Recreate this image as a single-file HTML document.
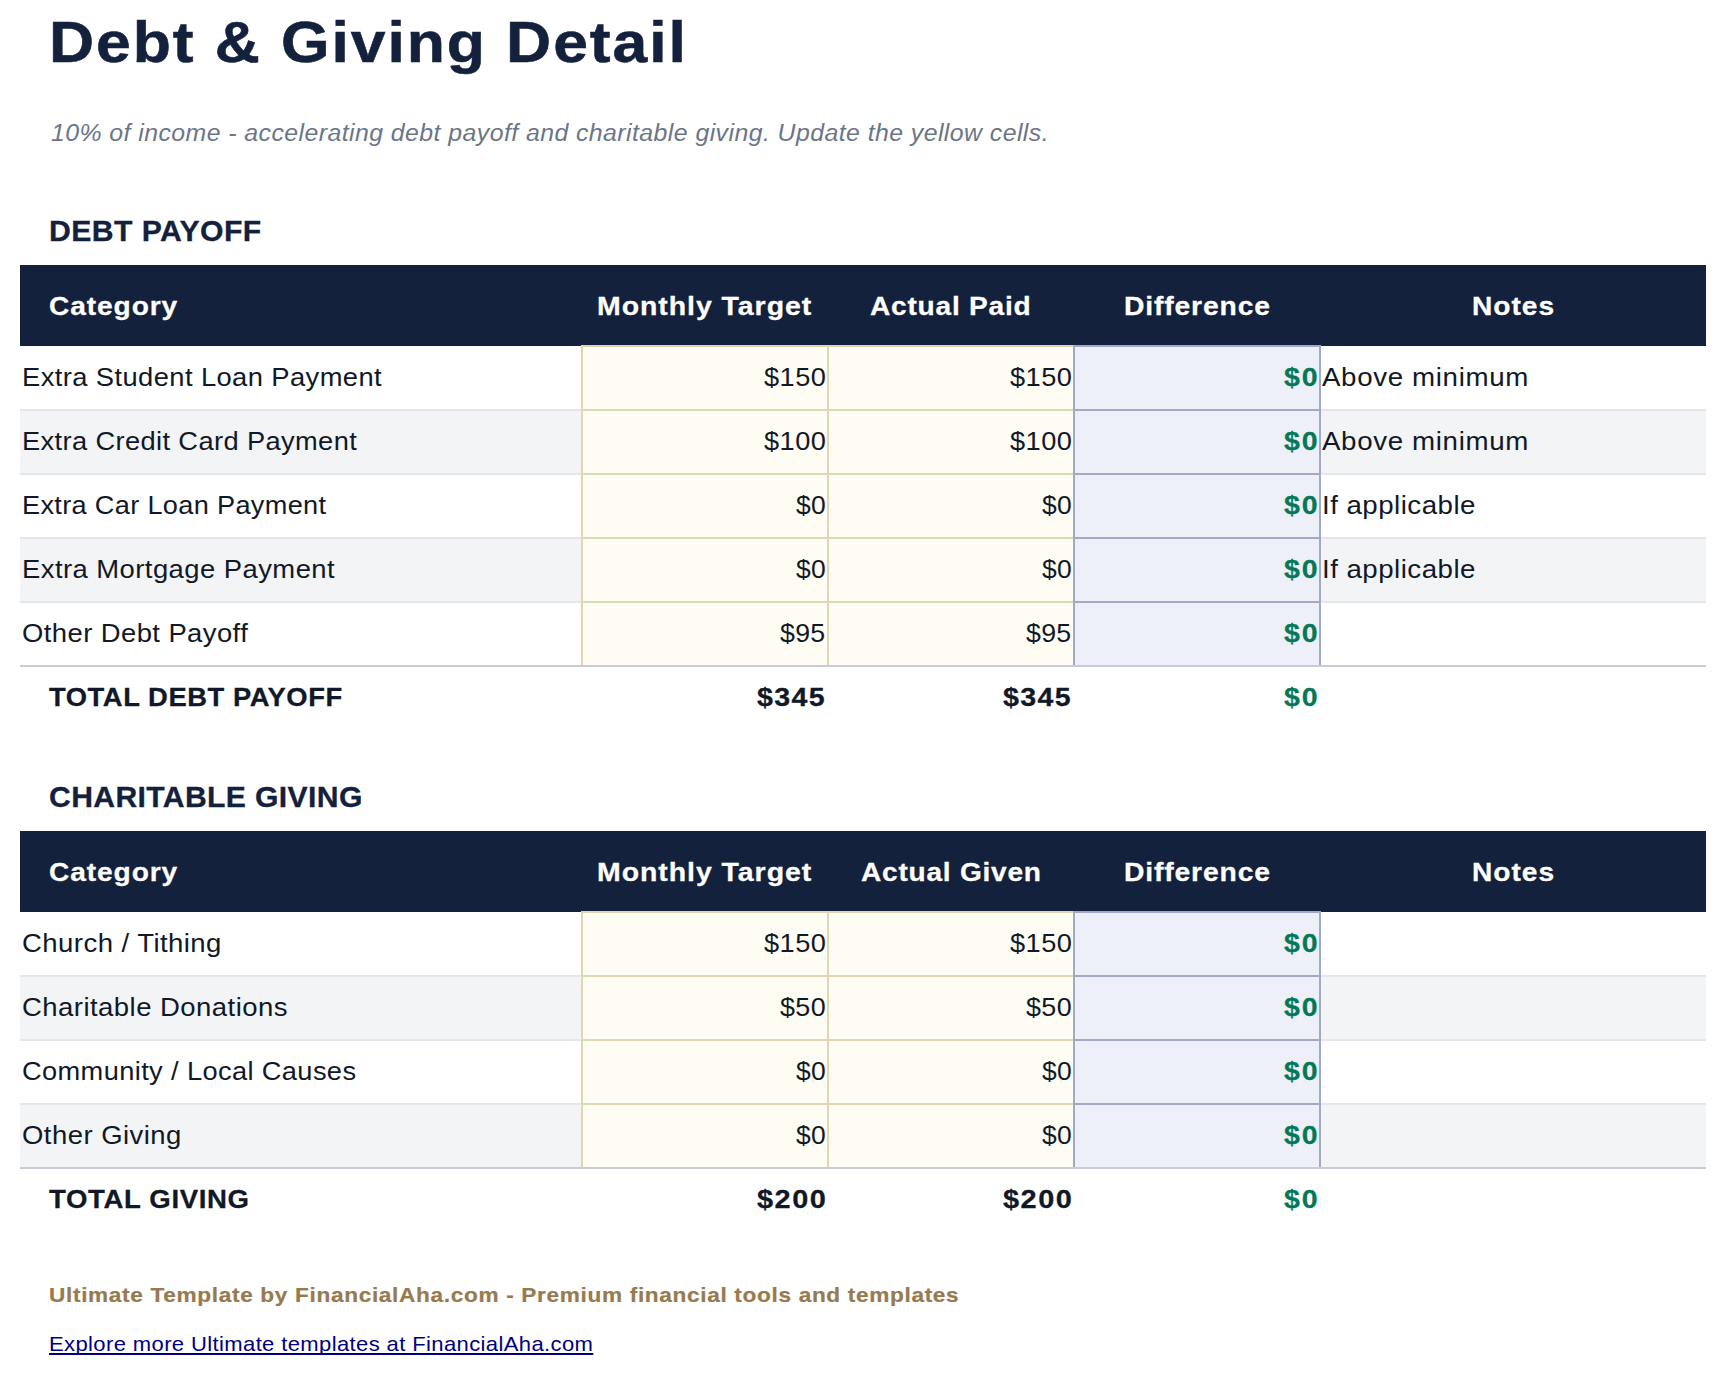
<!DOCTYPE html>
<html><head><meta charset="utf-8"><title>Debt &amp; Giving Detail</title>
<style>html,body{margin:0;padding:0;background:#ffffff;} body{width:1726px;height:1376px;position:relative;overflow:hidden;font-family:"Liberation Sans", sans-serif;}</style>
</head><body>
<div style="position:absolute;left:20px;top:265px;width:1686px;height:81px;background:#14213d"></div>
<div style="position:absolute;left:20px;top:346px;width:1686px;height:64px;background:#ffffff"></div>
<div style="position:absolute;left:20px;top:410px;width:1686px;height:64px;background:#f3f4f6"></div>
<div style="position:absolute;left:20px;top:474px;width:1686px;height:64px;background:#ffffff"></div>
<div style="position:absolute;left:20px;top:538px;width:1686px;height:64px;background:#f3f4f6"></div>
<div style="position:absolute;left:20px;top:602px;width:1686px;height:64px;background:#ffffff"></div>
<div style="position:absolute;left:20px;top:409px;width:1686px;height:2px;background:#e4e6ed"></div>
<div style="position:absolute;left:20px;top:473px;width:1686px;height:2px;background:#e4e6ed"></div>
<div style="position:absolute;left:20px;top:537px;width:1686px;height:2px;background:#e4e6ed"></div>
<div style="position:absolute;left:20px;top:601px;width:1686px;height:2px;background:#e4e6ed"></div>
<div style="position:absolute;left:581px;top:345px;width:248px;height:66px;background:#e0d6b4"></div>
<div style="position:absolute;left:583px;top:347px;width:244px;height:62px;background:#fffcf3"></div>
<div style="position:absolute;left:827px;top:345px;width:248px;height:66px;background:#e0d6b4"></div>
<div style="position:absolute;left:829px;top:347px;width:244px;height:62px;background:#fffcf3"></div>
<div style="position:absolute;left:581px;top:409px;width:248px;height:66px;background:#e0d6b4"></div>
<div style="position:absolute;left:583px;top:411px;width:244px;height:62px;background:#fffcf3"></div>
<div style="position:absolute;left:827px;top:409px;width:248px;height:66px;background:#e0d6b4"></div>
<div style="position:absolute;left:829px;top:411px;width:244px;height:62px;background:#fffcf3"></div>
<div style="position:absolute;left:581px;top:473px;width:248px;height:66px;background:#e0d6b4"></div>
<div style="position:absolute;left:583px;top:475px;width:244px;height:62px;background:#fffcf3"></div>
<div style="position:absolute;left:827px;top:473px;width:248px;height:66px;background:#e0d6b4"></div>
<div style="position:absolute;left:829px;top:475px;width:244px;height:62px;background:#fffcf3"></div>
<div style="position:absolute;left:581px;top:537px;width:248px;height:66px;background:#e0d6b4"></div>
<div style="position:absolute;left:583px;top:539px;width:244px;height:62px;background:#fffcf3"></div>
<div style="position:absolute;left:827px;top:537px;width:248px;height:66px;background:#e0d6b4"></div>
<div style="position:absolute;left:829px;top:539px;width:244px;height:62px;background:#fffcf3"></div>
<div style="position:absolute;left:581px;top:601px;width:248px;height:66px;background:#e0d6b4"></div>
<div style="position:absolute;left:583px;top:603px;width:244px;height:62px;background:#fffcf3"></div>
<div style="position:absolute;left:827px;top:601px;width:248px;height:66px;background:#e0d6b4"></div>
<div style="position:absolute;left:829px;top:603px;width:244px;height:62px;background:#fffcf3"></div>
<div style="position:absolute;left:1073px;top:345px;width:248px;height:66px;background:#a1a9c5"></div>
<div style="position:absolute;left:1075px;top:347px;width:244px;height:62px;background:#edf0f8"></div>
<div style="position:absolute;left:1073px;top:409px;width:248px;height:66px;background:#a1a9c5"></div>
<div style="position:absolute;left:1075px;top:411px;width:244px;height:62px;background:#edf0f8"></div>
<div style="position:absolute;left:1073px;top:473px;width:248px;height:66px;background:#a1a9c5"></div>
<div style="position:absolute;left:1075px;top:475px;width:244px;height:62px;background:#edf0f8"></div>
<div style="position:absolute;left:1073px;top:537px;width:248px;height:66px;background:#a1a9c5"></div>
<div style="position:absolute;left:1075px;top:539px;width:244px;height:62px;background:#edf0f8"></div>
<div style="position:absolute;left:1073px;top:601px;width:248px;height:66px;background:#a1a9c5"></div>
<div style="position:absolute;left:1075px;top:603px;width:244px;height:62px;background:#edf0f8"></div>
<div style="position:absolute;left:20px;top:665px;width:1686px;height:2px;background:#c8ccd8"></div>
<div style="position:absolute;left:20px;top:831px;width:1686px;height:81px;background:#14213d"></div>
<div style="position:absolute;left:20px;top:912px;width:1686px;height:64px;background:#ffffff"></div>
<div style="position:absolute;left:20px;top:976px;width:1686px;height:64px;background:#f3f4f6"></div>
<div style="position:absolute;left:20px;top:1040px;width:1686px;height:64px;background:#ffffff"></div>
<div style="position:absolute;left:20px;top:1104px;width:1686px;height:64px;background:#f3f4f6"></div>
<div style="position:absolute;left:20px;top:975px;width:1686px;height:2px;background:#e4e6ed"></div>
<div style="position:absolute;left:20px;top:1039px;width:1686px;height:2px;background:#e4e6ed"></div>
<div style="position:absolute;left:20px;top:1103px;width:1686px;height:2px;background:#e4e6ed"></div>
<div style="position:absolute;left:581px;top:911px;width:248px;height:66px;background:#e0d6b4"></div>
<div style="position:absolute;left:583px;top:913px;width:244px;height:62px;background:#fffcf3"></div>
<div style="position:absolute;left:827px;top:911px;width:248px;height:66px;background:#e0d6b4"></div>
<div style="position:absolute;left:829px;top:913px;width:244px;height:62px;background:#fffcf3"></div>
<div style="position:absolute;left:581px;top:975px;width:248px;height:66px;background:#e0d6b4"></div>
<div style="position:absolute;left:583px;top:977px;width:244px;height:62px;background:#fffcf3"></div>
<div style="position:absolute;left:827px;top:975px;width:248px;height:66px;background:#e0d6b4"></div>
<div style="position:absolute;left:829px;top:977px;width:244px;height:62px;background:#fffcf3"></div>
<div style="position:absolute;left:581px;top:1039px;width:248px;height:66px;background:#e0d6b4"></div>
<div style="position:absolute;left:583px;top:1041px;width:244px;height:62px;background:#fffcf3"></div>
<div style="position:absolute;left:827px;top:1039px;width:248px;height:66px;background:#e0d6b4"></div>
<div style="position:absolute;left:829px;top:1041px;width:244px;height:62px;background:#fffcf3"></div>
<div style="position:absolute;left:581px;top:1103px;width:248px;height:66px;background:#e0d6b4"></div>
<div style="position:absolute;left:583px;top:1105px;width:244px;height:62px;background:#fffcf3"></div>
<div style="position:absolute;left:827px;top:1103px;width:248px;height:66px;background:#e0d6b4"></div>
<div style="position:absolute;left:829px;top:1105px;width:244px;height:62px;background:#fffcf3"></div>
<div style="position:absolute;left:1073px;top:911px;width:248px;height:66px;background:#a1a9c5"></div>
<div style="position:absolute;left:1075px;top:913px;width:244px;height:62px;background:#edf0f8"></div>
<div style="position:absolute;left:1073px;top:975px;width:248px;height:66px;background:#a1a9c5"></div>
<div style="position:absolute;left:1075px;top:977px;width:244px;height:62px;background:#edf0f8"></div>
<div style="position:absolute;left:1073px;top:1039px;width:248px;height:66px;background:#a1a9c5"></div>
<div style="position:absolute;left:1075px;top:1041px;width:244px;height:62px;background:#edf0f8"></div>
<div style="position:absolute;left:1073px;top:1103px;width:248px;height:66px;background:#a1a9c5"></div>
<div style="position:absolute;left:1075px;top:1105px;width:244px;height:62px;background:#edf0f8"></div>
<div style="position:absolute;left:20px;top:1167px;width:1686px;height:2px;background:#c8ccd8"></div>
<div style="position:absolute;left:48.63px;top:-7.92px;font-family:'Liberation Sans', sans-serif;font-size:57.48px;line-height:100px;font-weight:bold;font-style:normal;color:#14213d;white-space:nowrap;transform:scaleX(1.0869);transform-origin:0 0;letter-spacing:1.761px;-webkit-text-stroke:0.57px #14213d;">Debt &amp; Giving Detail</div>
<div style="position:absolute;left:50.85px;top:82.86px;font-family:'Liberation Sans', sans-serif;font-size:23.48px;line-height:100px;font-weight:normal;font-style:italic;color:#6b7588;white-space:nowrap;transform:scaleX(1.0579);transform-origin:0 0;letter-spacing:0.417px;">10% of income - accelerating debt payoff and charitable giving. Update the yellow cells.</div>
<div style="position:absolute;left:48.99px;top:180.84px;font-family:'Liberation Sans', sans-serif;font-size:29.33px;line-height:100px;font-weight:bold;font-style:normal;color:#14213d;white-space:nowrap;transform:scaleX(1.0297);transform-origin:0 0;letter-spacing:0.402px;-webkit-text-stroke:0.29px #14213d;">DEBT PAYOFF</div>
<div style="position:absolute;left:49.13px;top:256.02px;font-family:'Liberation Sans', sans-serif;font-size:26.21px;line-height:100px;font-weight:bold;font-style:normal;color:#ffffff;white-space:nowrap;transform:scaleX(1.0739);transform-origin:0 0;letter-spacing:0.833px;-webkit-text-stroke:0.26px #ffffff;">Category</div>
<div style="position:absolute;left:597.42px;top:256.02px;font-family:'Liberation Sans', sans-serif;font-size:26.21px;line-height:100px;font-weight:bold;font-style:normal;color:#ffffff;white-space:nowrap;transform:scaleX(1.0868);transform-origin:0 0;letter-spacing:0.868px;-webkit-text-stroke:0.26px #ffffff;">Monthly Target</div>
<div style="position:absolute;left:870.25px;top:256.02px;font-family:'Liberation Sans', sans-serif;font-size:26.21px;line-height:100px;font-weight:bold;font-style:normal;color:#ffffff;white-space:nowrap;transform:scaleX(1.0725);transform-origin:0 0;letter-spacing:0.712px;-webkit-text-stroke:0.26px #ffffff;">Actual Paid</div>
<div style="position:absolute;left:1124.01px;top:256.02px;font-family:'Liberation Sans', sans-serif;font-size:26.21px;line-height:100px;font-weight:bold;font-style:normal;color:#ffffff;white-space:nowrap;transform:scaleX(1.0797);transform-origin:0 0;letter-spacing:0.782px;-webkit-text-stroke:0.26px #ffffff;">Difference</div>
<div style="position:absolute;left:1472.03px;top:256.02px;font-family:'Liberation Sans', sans-serif;font-size:26.21px;line-height:100px;font-weight:bold;font-style:normal;color:#ffffff;white-space:nowrap;transform:scaleX(1.0746);transform-origin:0 0;letter-spacing:0.915px;-webkit-text-stroke:0.26px #ffffff;">Notes</div>
<div style="position:absolute;left:22.33px;top:326.72px;font-family:'Liberation Sans', sans-serif;font-size:26.21px;line-height:100px;font-weight:normal;font-style:normal;color:#111827;white-space:nowrap;transform:scaleX(1.0429);transform-origin:0 0;letter-spacing:0.392px;">Extra Student Loan Payment</div>
<div style="position:absolute;left:763.61px;top:326.72px;font-family:'Liberation Sans', sans-serif;font-size:26.21px;line-height:100px;font-weight:normal;font-style:normal;color:#111827;white-space:nowrap;transform:scaleX(1.0371);transform-origin:0 0;letter-spacing:0.481px;">$150</div>
<div style="position:absolute;left:1009.61px;top:326.72px;font-family:'Liberation Sans', sans-serif;font-size:26.21px;line-height:100px;font-weight:normal;font-style:normal;color:#111827;white-space:nowrap;transform:scaleX(1.0371);transform-origin:0 0;letter-spacing:0.481px;">$150</div>
<div style="position:absolute;left:1284.37px;top:326.72px;font-family:'Liberation Sans', sans-serif;font-size:26.21px;line-height:100px;font-weight:bold;font-style:normal;color:#047857;white-space:nowrap;transform:scaleX(1.0870);transform-origin:0 0;letter-spacing:1.693px;-webkit-text-stroke:0.26px #047857;">$0</div>
<div style="position:absolute;left:1322.25px;top:326.72px;font-family:'Liberation Sans', sans-serif;font-size:26.21px;line-height:100px;font-weight:normal;font-style:normal;color:#111827;white-space:nowrap;transform:scaleX(1.0568);transform-origin:0 0;letter-spacing:0.610px;">Above minimum</div>
<div style="position:absolute;left:22.34px;top:390.72px;font-family:'Liberation Sans', sans-serif;font-size:26.21px;line-height:100px;font-weight:normal;font-style:normal;color:#111827;white-space:nowrap;transform:scaleX(1.0405);transform-origin:0 0;letter-spacing:0.359px;">Extra Credit Card Payment</div>
<div style="position:absolute;left:763.61px;top:390.72px;font-family:'Liberation Sans', sans-serif;font-size:26.21px;line-height:100px;font-weight:normal;font-style:normal;color:#111827;white-space:nowrap;transform:scaleX(1.0371);transform-origin:0 0;letter-spacing:0.481px;">$100</div>
<div style="position:absolute;left:1009.61px;top:390.72px;font-family:'Liberation Sans', sans-serif;font-size:26.21px;line-height:100px;font-weight:normal;font-style:normal;color:#111827;white-space:nowrap;transform:scaleX(1.0371);transform-origin:0 0;letter-spacing:0.481px;">$100</div>
<div style="position:absolute;left:1284.37px;top:390.72px;font-family:'Liberation Sans', sans-serif;font-size:26.21px;line-height:100px;font-weight:bold;font-style:normal;color:#047857;white-space:nowrap;transform:scaleX(1.0870);transform-origin:0 0;letter-spacing:1.693px;-webkit-text-stroke:0.26px #047857;">$0</div>
<div style="position:absolute;left:1322.25px;top:390.72px;font-family:'Liberation Sans', sans-serif;font-size:26.21px;line-height:100px;font-weight:normal;font-style:normal;color:#111827;white-space:nowrap;transform:scaleX(1.0568);transform-origin:0 0;letter-spacing:0.610px;">Above minimum</div>
<div style="position:absolute;left:22.35px;top:454.72px;font-family:'Liberation Sans', sans-serif;font-size:26.21px;line-height:100px;font-weight:normal;font-style:normal;color:#111827;white-space:nowrap;transform:scaleX(1.0351);transform-origin:0 0;letter-spacing:0.324px;">Extra Car Loan Payment</div>
<div style="position:absolute;left:795.68px;top:454.72px;font-family:'Liberation Sans', sans-serif;font-size:26.21px;line-height:100px;font-weight:normal;font-style:normal;color:#111827;white-space:nowrap;transform:scaleX(1.0095);transform-origin:0 0;letter-spacing:0.177px;">$0</div>
<div style="position:absolute;left:1041.68px;top:454.72px;font-family:'Liberation Sans', sans-serif;font-size:26.21px;line-height:100px;font-weight:normal;font-style:normal;color:#111827;white-space:nowrap;transform:scaleX(1.0095);transform-origin:0 0;letter-spacing:0.177px;">$0</div>
<div style="position:absolute;left:1284.37px;top:454.72px;font-family:'Liberation Sans', sans-serif;font-size:26.21px;line-height:100px;font-weight:bold;font-style:normal;color:#047857;white-space:nowrap;transform:scaleX(1.0870);transform-origin:0 0;letter-spacing:1.693px;-webkit-text-stroke:0.26px #047857;">$0</div>
<div style="position:absolute;left:1322.03px;top:454.72px;font-family:'Liberation Sans', sans-serif;font-size:26.21px;line-height:100px;font-weight:normal;font-style:normal;color:#111827;white-space:nowrap;transform:scaleX(1.0568);transform-origin:0 0;letter-spacing:0.447px;">If applicable</div>
<div style="position:absolute;left:22.33px;top:518.72px;font-family:'Liberation Sans', sans-serif;font-size:26.21px;line-height:100px;font-weight:normal;font-style:normal;color:#111827;white-space:nowrap;transform:scaleX(1.0459);transform-origin:0 0;letter-spacing:0.433px;">Extra Mortgage Payment</div>
<div style="position:absolute;left:795.68px;top:518.72px;font-family:'Liberation Sans', sans-serif;font-size:26.21px;line-height:100px;font-weight:normal;font-style:normal;color:#111827;white-space:nowrap;transform:scaleX(1.0095);transform-origin:0 0;letter-spacing:0.177px;">$0</div>
<div style="position:absolute;left:1041.68px;top:518.72px;font-family:'Liberation Sans', sans-serif;font-size:26.21px;line-height:100px;font-weight:normal;font-style:normal;color:#111827;white-space:nowrap;transform:scaleX(1.0095);transform-origin:0 0;letter-spacing:0.177px;">$0</div>
<div style="position:absolute;left:1284.37px;top:518.72px;font-family:'Liberation Sans', sans-serif;font-size:26.21px;line-height:100px;font-weight:bold;font-style:normal;color:#047857;white-space:nowrap;transform:scaleX(1.0870);transform-origin:0 0;letter-spacing:1.693px;-webkit-text-stroke:0.26px #047857;">$0</div>
<div style="position:absolute;left:1322.03px;top:518.72px;font-family:'Liberation Sans', sans-serif;font-size:26.21px;line-height:100px;font-weight:normal;font-style:normal;color:#111827;white-space:nowrap;transform:scaleX(1.0568);transform-origin:0 0;letter-spacing:0.447px;">If applicable</div>
<div style="position:absolute;left:22.14px;top:582.72px;font-family:'Liberation Sans', sans-serif;font-size:26.21px;line-height:100px;font-weight:normal;font-style:normal;color:#111827;white-space:nowrap;transform:scaleX(1.0460);transform-origin:0 0;letter-spacing:0.411px;">Other Debt Payoff</div>
<div style="position:absolute;left:779.65px;top:582.72px;font-family:'Liberation Sans', sans-serif;font-size:26.21px;line-height:100px;font-weight:normal;font-style:normal;color:#111827;white-space:nowrap;transform:scaleX(1.0194);transform-origin:0 0;letter-spacing:0.278px;">$95</div>
<div style="position:absolute;left:1025.65px;top:582.72px;font-family:'Liberation Sans', sans-serif;font-size:26.21px;line-height:100px;font-weight:normal;font-style:normal;color:#111827;white-space:nowrap;transform:scaleX(1.0194);transform-origin:0 0;letter-spacing:0.278px;">$95</div>
<div style="position:absolute;left:1284.37px;top:582.72px;font-family:'Liberation Sans', sans-serif;font-size:26.21px;line-height:100px;font-weight:bold;font-style:normal;color:#047857;white-space:nowrap;transform:scaleX(1.0870);transform-origin:0 0;letter-spacing:1.693px;-webkit-text-stroke:0.26px #047857;">$0</div>
<div style="position:absolute;left:48.63px;top:646.92px;font-family:'Liberation Sans', sans-serif;font-size:26.21px;line-height:100px;font-weight:bold;font-style:normal;color:#111827;white-space:nowrap;transform:scaleX(1.0449);transform-origin:0 0;letter-spacing:0.523px;-webkit-text-stroke:0.26px #111827;">TOTAL DEBT PAYOFF</div>
<div style="position:absolute;left:757.31px;top:646.92px;font-family:'Liberation Sans', sans-serif;font-size:26.21px;line-height:100px;font-weight:bold;font-style:normal;color:#111827;white-space:nowrap;transform:scaleX(1.0902);transform-origin:0 0;letter-spacing:1.219px;-webkit-text-stroke:0.26px #111827;">$345</div>
<div style="position:absolute;left:1003.31px;top:646.92px;font-family:'Liberation Sans', sans-serif;font-size:26.21px;line-height:100px;font-weight:bold;font-style:normal;color:#111827;white-space:nowrap;transform:scaleX(1.0902);transform-origin:0 0;letter-spacing:1.219px;-webkit-text-stroke:0.26px #111827;">$345</div>
<div style="position:absolute;left:1284.37px;top:646.92px;font-family:'Liberation Sans', sans-serif;font-size:26.21px;line-height:100px;font-weight:bold;font-style:normal;color:#047857;white-space:nowrap;transform:scaleX(1.0870);transform-origin:0 0;letter-spacing:1.693px;-webkit-text-stroke:0.26px #047857;">$0</div>
<div style="position:absolute;left:48.69px;top:746.84px;font-family:'Liberation Sans', sans-serif;font-size:29.33px;line-height:100px;font-weight:bold;font-style:normal;color:#14213d;white-space:nowrap;transform:scaleX(1.0278);transform-origin:0 0;letter-spacing:0.350px;-webkit-text-stroke:0.29px #14213d;">CHARITABLE GIVING</div>
<div style="position:absolute;left:49.13px;top:822.02px;font-family:'Liberation Sans', sans-serif;font-size:26.21px;line-height:100px;font-weight:bold;font-style:normal;color:#ffffff;white-space:nowrap;transform:scaleX(1.0739);transform-origin:0 0;letter-spacing:0.833px;-webkit-text-stroke:0.26px #ffffff;">Category</div>
<div style="position:absolute;left:597.42px;top:822.02px;font-family:'Liberation Sans', sans-serif;font-size:26.21px;line-height:100px;font-weight:bold;font-style:normal;color:#ffffff;white-space:nowrap;transform:scaleX(1.0868);transform-origin:0 0;letter-spacing:0.868px;-webkit-text-stroke:0.26px #ffffff;">Monthly Target</div>
<div style="position:absolute;left:860.60px;top:822.02px;font-family:'Liberation Sans', sans-serif;font-size:26.21px;line-height:100px;font-weight:bold;font-style:normal;color:#ffffff;white-space:nowrap;transform:scaleX(1.0711);transform-origin:0 0;letter-spacing:0.714px;-webkit-text-stroke:0.26px #ffffff;">Actual Given</div>
<div style="position:absolute;left:1124.01px;top:822.02px;font-family:'Liberation Sans', sans-serif;font-size:26.21px;line-height:100px;font-weight:bold;font-style:normal;color:#ffffff;white-space:nowrap;transform:scaleX(1.0797);transform-origin:0 0;letter-spacing:0.782px;-webkit-text-stroke:0.26px #ffffff;">Difference</div>
<div style="position:absolute;left:1472.03px;top:822.02px;font-family:'Liberation Sans', sans-serif;font-size:26.21px;line-height:100px;font-weight:bold;font-style:normal;color:#ffffff;white-space:nowrap;transform:scaleX(1.0746);transform-origin:0 0;letter-spacing:0.915px;-webkit-text-stroke:0.26px #ffffff;">Notes</div>
<div style="position:absolute;left:22.14px;top:892.72px;font-family:'Liberation Sans', sans-serif;font-size:26.21px;line-height:100px;font-weight:normal;font-style:normal;color:#111827;white-space:nowrap;transform:scaleX(1.0505);transform-origin:0 0;letter-spacing:0.420px;">Church / Tithing</div>
<div style="position:absolute;left:763.61px;top:892.72px;font-family:'Liberation Sans', sans-serif;font-size:26.21px;line-height:100px;font-weight:normal;font-style:normal;color:#111827;white-space:nowrap;transform:scaleX(1.0371);transform-origin:0 0;letter-spacing:0.481px;">$150</div>
<div style="position:absolute;left:1009.61px;top:892.72px;font-family:'Liberation Sans', sans-serif;font-size:26.21px;line-height:100px;font-weight:normal;font-style:normal;color:#111827;white-space:nowrap;transform:scaleX(1.0371);transform-origin:0 0;letter-spacing:0.481px;">$150</div>
<div style="position:absolute;left:1284.37px;top:892.72px;font-family:'Liberation Sans', sans-serif;font-size:26.21px;line-height:100px;font-weight:bold;font-style:normal;color:#047857;white-space:nowrap;transform:scaleX(1.0870);transform-origin:0 0;letter-spacing:1.693px;-webkit-text-stroke:0.26px #047857;">$0</div>
<div style="position:absolute;left:22.14px;top:956.72px;font-family:'Liberation Sans', sans-serif;font-size:26.21px;line-height:100px;font-weight:normal;font-style:normal;color:#111827;white-space:nowrap;transform:scaleX(1.0495);transform-origin:0 0;letter-spacing:0.435px;">Charitable Donations</div>
<div style="position:absolute;left:779.65px;top:956.72px;font-family:'Liberation Sans', sans-serif;font-size:26.21px;line-height:100px;font-weight:normal;font-style:normal;color:#111827;white-space:nowrap;transform:scaleX(1.0263);transform-origin:0 0;letter-spacing:0.379px;">$50</div>
<div style="position:absolute;left:1025.65px;top:956.72px;font-family:'Liberation Sans', sans-serif;font-size:26.21px;line-height:100px;font-weight:normal;font-style:normal;color:#111827;white-space:nowrap;transform:scaleX(1.0263);transform-origin:0 0;letter-spacing:0.379px;">$50</div>
<div style="position:absolute;left:1284.37px;top:956.72px;font-family:'Liberation Sans', sans-serif;font-size:26.21px;line-height:100px;font-weight:bold;font-style:normal;color:#047857;white-space:nowrap;transform:scaleX(1.0870);transform-origin:0 0;letter-spacing:1.693px;-webkit-text-stroke:0.26px #047857;">$0</div>
<div style="position:absolute;left:22.15px;top:1020.72px;font-family:'Liberation Sans', sans-serif;font-size:26.21px;line-height:100px;font-weight:normal;font-style:normal;color:#111827;white-space:nowrap;transform:scaleX(1.0391);transform-origin:0 0;letter-spacing:0.362px;">Community / Local Causes</div>
<div style="position:absolute;left:795.68px;top:1020.72px;font-family:'Liberation Sans', sans-serif;font-size:26.21px;line-height:100px;font-weight:normal;font-style:normal;color:#111827;white-space:nowrap;transform:scaleX(1.0095);transform-origin:0 0;letter-spacing:0.177px;">$0</div>
<div style="position:absolute;left:1041.68px;top:1020.72px;font-family:'Liberation Sans', sans-serif;font-size:26.21px;line-height:100px;font-weight:normal;font-style:normal;color:#111827;white-space:nowrap;transform:scaleX(1.0095);transform-origin:0 0;letter-spacing:0.177px;">$0</div>
<div style="position:absolute;left:1284.37px;top:1020.72px;font-family:'Liberation Sans', sans-serif;font-size:26.21px;line-height:100px;font-weight:bold;font-style:normal;color:#047857;white-space:nowrap;transform:scaleX(1.0870);transform-origin:0 0;letter-spacing:1.693px;-webkit-text-stroke:0.26px #047857;">$0</div>
<div style="position:absolute;left:22.14px;top:1084.72px;font-family:'Liberation Sans', sans-serif;font-size:26.21px;line-height:100px;font-weight:normal;font-style:normal;color:#111827;white-space:nowrap;transform:scaleX(1.0487);transform-origin:0 0;letter-spacing:0.440px;">Other Giving</div>
<div style="position:absolute;left:795.68px;top:1084.72px;font-family:'Liberation Sans', sans-serif;font-size:26.21px;line-height:100px;font-weight:normal;font-style:normal;color:#111827;white-space:nowrap;transform:scaleX(1.0095);transform-origin:0 0;letter-spacing:0.177px;">$0</div>
<div style="position:absolute;left:1041.68px;top:1084.72px;font-family:'Liberation Sans', sans-serif;font-size:26.21px;line-height:100px;font-weight:normal;font-style:normal;color:#111827;white-space:nowrap;transform:scaleX(1.0095);transform-origin:0 0;letter-spacing:0.177px;">$0</div>
<div style="position:absolute;left:1284.37px;top:1084.72px;font-family:'Liberation Sans', sans-serif;font-size:26.21px;line-height:100px;font-weight:bold;font-style:normal;color:#047857;white-space:nowrap;transform:scaleX(1.0870);transform-origin:0 0;letter-spacing:1.693px;-webkit-text-stroke:0.26px #047857;">$0</div>
<div style="position:absolute;left:48.52px;top:1148.92px;font-family:'Liberation Sans', sans-serif;font-size:26.21px;line-height:100px;font-weight:bold;font-style:normal;color:#111827;white-space:nowrap;transform:scaleX(1.0525);transform-origin:0 0;letter-spacing:0.599px;-webkit-text-stroke:0.26px #111827;">TOTAL GIVING</div>
<div style="position:absolute;left:757.30px;top:1148.92px;font-family:'Liberation Sans', sans-serif;font-size:26.21px;line-height:100px;font-weight:bold;font-style:normal;color:#111827;white-space:nowrap;transform:scaleX(1.1029);transform-origin:0 0;letter-spacing:1.390px;-webkit-text-stroke:0.26px #111827;">$200</div>
<div style="position:absolute;left:1003.30px;top:1148.92px;font-family:'Liberation Sans', sans-serif;font-size:26.21px;line-height:100px;font-weight:bold;font-style:normal;color:#111827;white-space:nowrap;transform:scaleX(1.1029);transform-origin:0 0;letter-spacing:1.390px;-webkit-text-stroke:0.26px #111827;">$200</div>
<div style="position:absolute;left:1284.37px;top:1148.92px;font-family:'Liberation Sans', sans-serif;font-size:26.21px;line-height:100px;font-weight:bold;font-style:normal;color:#047857;white-space:nowrap;transform:scaleX(1.0870);transform-origin:0 0;letter-spacing:1.693px;-webkit-text-stroke:0.26px #047857;">$0</div>
<div style="position:absolute;left:49.45px;top:1244.75px;font-family:'Liberation Sans', sans-serif;font-size:20.92px;line-height:100px;font-weight:bold;font-style:normal;color:#977a4e;white-space:nowrap;transform:scaleX(1.0825);transform-origin:0 0;letter-spacing:0.607px;-webkit-text-stroke:0.21px #977a4e;">Ultimate Template by FinancialAha.com - Premium financial tools and templates</div>
<div style="position:absolute;left:49.25px;top:1293.74px;font-family:'Liberation Sans', sans-serif;font-size:20.97px;line-height:100px;font-weight:normal;font-style:normal;color:#000080;white-space:nowrap;transform:scaleX(1.0511);transform-origin:0 0;letter-spacing:0.350px;text-decoration:underline;text-decoration-skip-ink:none;">Explore more Ultimate templates at FinancialAha.com</div>
</body></html>
